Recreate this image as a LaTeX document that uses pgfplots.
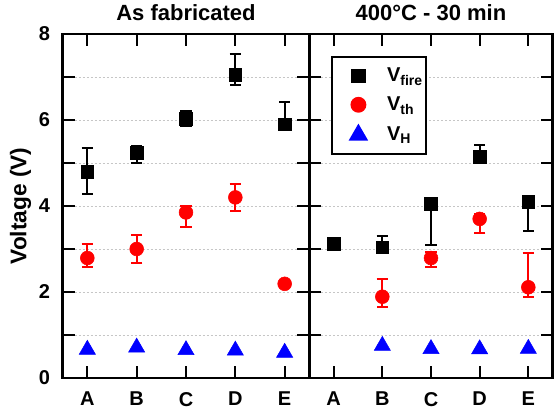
\documentclass[border=0pt]{standalone}
\usepackage{fontspec}
\setmainfont{Liberation Sans}
\usepackage{pgfplots}
\pgfplotsset{compat=1.18}

\pgfplotsset{
  panel/.style={
    scale only axis,
    width=184.5pt, height=258pt,
    xmin=-0.5, xmax=4.5, ymin=0, ymax=8,
    xtick={0,1,2,3,4}, xticklabels={A,B,C,D,E},
    ytick={0,2,4,6,8}, minor ytick={1,3,5,7},
    xtick pos=both, ytick pos=both,
    xticklabel pos=lower, yticklabel pos=left,
    tick align=inside,
    major tick length=9pt, minor tick length=9pt,
    every tick/.style={black, line width=1.5pt},
    axis line style={line width=2pt},
    ymajorgrids, yminorgrids,
    major grid style={gray!45, line width=0.7pt, dash pattern=on 1.5pt off 1.5pt},
    minor grid style={gray!45, line width=0.7pt, dash pattern=on 1.5pt off 1.5pt},
    /pgf/number format/assume math mode=true,
    tick label style={font=\fontsize{15}{15}\selectfont\bfseries},
    yticklabel style={xshift=-6pt},
    xticklabel style={yshift=-7pt},
    every axis title/.style={at={(0.5,1)}, anchor=base, yshift=10pt,
      font=\fontsize{16.5}{16.5}\selectfont\bfseries},
    error bars/error bar style={line width=1.5pt},
    error bars/error mark options={rotate=90, mark size=4.2pt, line width=1.5pt},
  },
  vfire/.style={only marks, black, mark=square*, mark size=4.8pt,
    error bars/.cd, y dir=both, y explicit},
  vth/.style={only marks, red, mark=*, mark size=5.2pt,
    error bars/.cd, y dir=both, y explicit},
  vh/.style={only marks, blue, mark=triangle*, mark size=7pt},
}

\begin{document}
\begin{tikzpicture}
\useasboundingbox (-47pt,-28.5pt) rectangle (368.5pt,283.5pt);

% --- As fabricated ---
\begin{axis}[panel, at={(0pt,0pt)}, anchor=south west,
  width=185pt,
  title={As fabricated},
  ylabel={Voltage (V)},
  every axis y label/.style={at={(axis description cs:0,0.5)}, xshift=-31.5pt,
    rotate=90, anchor=center, font=\fontsize{17}{17}\selectfont\bfseries},
]
\addplot[vfire] coordinates {
  (0,4.80) += (0,0.56) -= (0,0.53)
  (1,5.24) += (0,0.15) -= (0,0.25)
  (2,6.02) += (0,0.19) -= (0,0.15)
  (3,7.06) += (0,0.47) -= (0,0.25)
  (4,5.90) += (0,0.52) -= (0,0.13)
};
\addplot[vth] coordinates {
  (0,2.79) += (0,0.33) -= (0,0.21)
  (1,3.00) += (0,0.32) -= (0,0.33)
  (2,3.85) += (0,0.15) -= (0,0.35)
  (3,4.20) += (0,0.31) -= (0,0.32)
  (4,2.19) += (0,0.05) -= (0,0.05)
};
\addplot[vh] coordinates {(0,0.66) (1,0.71) (2,0.65) (3,0.64) (4,0.59)};
\end{axis}

% --- 400 C - 30 min ---
\begin{axis}[panel, at={(185pt,0pt)}, anchor=south west,
  width=182.5pt,
  title={400°C - 30 min},
  yticklabels={},
  legend image code/.code={%
    \path[draw=none, fill=none] (0pt,-4pt) rectangle (28pt,4pt);
    \draw plot coordinates {(17.5pt,0pt)};},
  legend style={at={(axis description cs:0.088,0.937)}, anchor=north west,
    draw=black, line width=1.5pt, fill=white,
    inner xsep=2.5pt, inner ysep=8.6pt, row sep=9.75pt,
    nodes={inner sep=0pt},
    font=\fontsize{15}{15}\selectfont\bfseries,
    /tikz/every odd column/.style={column sep=11pt}},
  legend cell align=left,
]
\addplot[vfire] coordinates {
  (0,3.13) += (0,0.08) -= (0,0.05)
  (1,3.04) += (0,0.27) -= (0,0.10)
  (2,4.06) += (0,0.12) -= (0,0.97)
  (3,5.15) += (0,0.27) -= (0,0.10)
  (4,4.09) += (0,0.12) -= (0,0.68)
};
\addlegendentry{V\textsubscript{fire}}
\addplot[vth] coordinates {
  (1,1.89) += (0,0.41) -= (0,0.25)
  (2,2.79) += (0,0.15) -= (0,0.22)
  (3,3.70) += (0,0.12) -= (0,0.32)
  (4,2.11) += (0,0.80) -= (0,0.22)
};
\addlegendentry{V\textsubscript{th}}
\addplot[vh] coordinates {(1,0.75) (2,0.675) (3,0.67) (4,0.68)};
\addlegendentry{V\textsubscript{H}}
\end{axis}
\end{tikzpicture}
\end{document}
